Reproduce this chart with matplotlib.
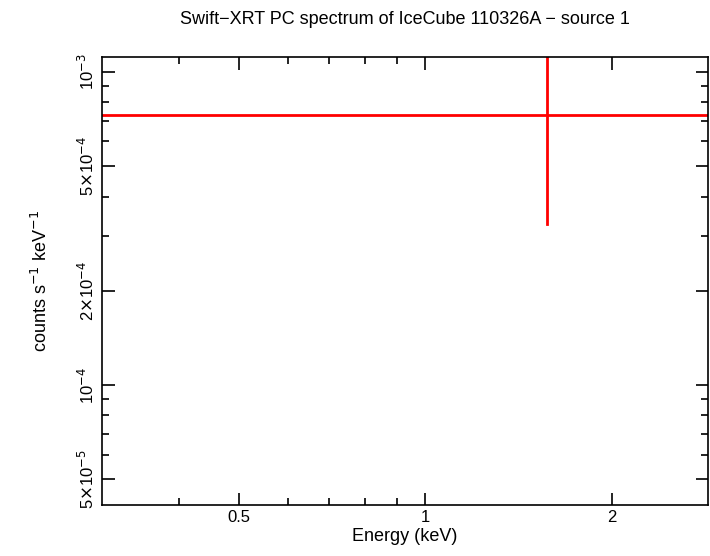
import matplotlib
matplotlib.use("Agg")
import matplotlib.pyplot as plt
from matplotlib.ticker import FixedLocator, NullFormatter

plt.rcParams["font.family"] = "Liberation Sans"

# single spectral bin
energy = [1.573]
e_lo = [0.301]
e_hi = [2.86]
rate = [7.29e-4]
rate_lo = [3.27e-4]
rate_hi = [2.0e-3]

xticks = [0.5, 1, 2]
xlabels = ["0.5", "1", "2"]
yticks = [5e-5, 1e-4, 2e-4, 5e-4, 1e-3]
ylabels = [r"5$\times$10$^{-5}$", r"10$^{-4}$", r"2$\times$10$^{-4}$",
           r"5$\times$10$^{-4}$", r"10$^{-3}$"]

fig = plt.figure(figsize=(7.1, 5.56), dpi=100)
ax = fig.add_axes([0.1437, 0.0917, 0.8533, 0.8058])
ax.set_xscale("log")
ax.set_yscale("log")

for i in range(len(energy)):
    ax.plot([e_lo[i], e_hi[i]], [rate[i], rate[i]], color="red", lw=2)
    ax.plot([energy[i], energy[i]], [rate_lo[i], rate_hi[i]], color="red", lw=2)

ax.set_xlim(0.301, 2.86)
ax.set_ylim(4.14e-5, 1.117e-3)

ax.xaxis.set_major_locator(FixedLocator(xticks))
ax.set_xticklabels(xlabels)
minor_x = [0.4, 0.6, 0.7, 0.8, 0.9]
ax.xaxis.set_minor_locator(FixedLocator(minor_x))
ax.xaxis.set_minor_formatter(NullFormatter())
ax.yaxis.set_major_locator(FixedLocator(yticks))
ax.set_yticklabels(ylabels, rotation=90, va="center")
minor_y = [6e-5, 7e-5, 8e-5, 9e-5, 3e-4, 4e-4, 6e-4, 7e-4, 8e-4, 9e-4]
ax.yaxis.set_minor_locator(FixedLocator(minor_y))
ax.yaxis.set_minor_formatter(NullFormatter())

ax.tick_params(which="both", direction="in", top=True, right=True, labelsize=12)
ax.tick_params(which="major", length=9, width=1.2)
ax.tick_params(which="minor", length=5, width=1.2)
for s in ax.spines.values():
    s.set_linewidth(1.2)

ax.set_xlabel("Energy (keV)", fontsize=13, labelpad=2)
ax.set_ylabel(r"counts s$^{-1}$ keV$^{-1}$", fontsize=13)
ax.yaxis.set_label_coords(-0.085, 0.5)
ax.set_title("Swift\u2212XRT PC spectrum of IceCube 110326A \u2212 source 1",
             fontsize=13, pad=24)

fig.savefig("out.png", dpi=100)
